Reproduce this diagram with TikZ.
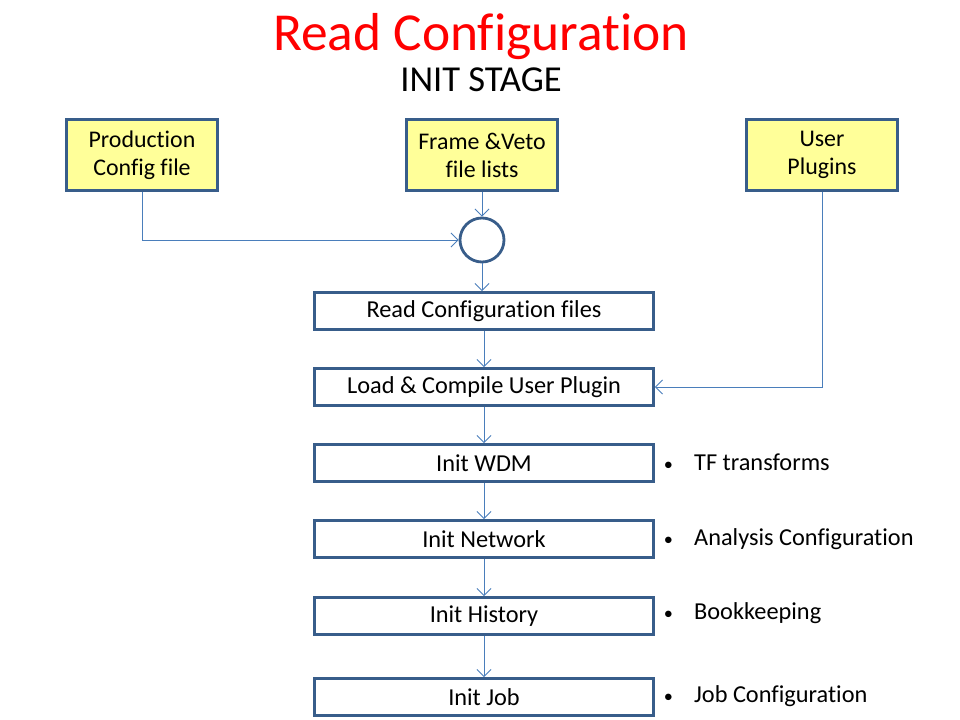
\documentclass[tikz,border=0pt]{standalone}
\usepackage{fontspec}
\setmainfont[Ligatures=NoCommon]{Carlito}
\usepackage{tikz}
\usetikzlibrary{arrows.meta, positioning}
\definecolor{boxline}{HTML}{385D8A}
\definecolor{arrowblue}{HTML}{4A7EBB}
\definecolor{inputfill}{HTML}{FFFF99}
\newlength{\unitpx}
\setlength{\unitpx}{0.025cm}
\tikzset{
  inbox/.style={draw=boxline, line width=2pt, fill=inputfill, minimum width=151\unitpx, minimum height=71\unitpx, align=center, font=\fontsize{17}{20}\selectfont},
  stagebox/.style={draw=boxline, line width=2pt, fill=white, minimum width=339\unitpx, minimum height=37\unitpx, font=\fontsize{17.3}{20}\selectfont},
  flow/.style={draw=arrowblue, line width=0.6pt, -{Straight Barb[length=5pt,width=10pt]}},
  note/.style={anchor=west, font=\fontsize{17.3}{20}\selectfont}
}
\newcommand{\notedot}{{\fontsize{13}{15}\selectfont\textbullet}\hspace{15pt}}
\begin{document}
\begin{tikzpicture}[x=0.025cm, y=-0.025cm]
  \useasboundingbox (0,0) rectangle (960,720);
  % title
  \node[text=red, font=\fontsize{38}{44}\selectfont] (title) at (481,37) {Read Configuration};
  \node[font=\fontsize{26}{30}\selectfont] (stage) at (481,80) {INIT STAGE};
  % inputs
  \node[inbox] (prod) at (142,155) {Production\\Config file};
  \node[inbox] (frame) at (482,155) {Frame \&Veto\\file lists};
  \node[inbox] (plug) at (822,155) {User\\Plugins};
  \node[circle, draw=boxline, line width=2pt, minimum size=44\unitpx, inner sep=0pt] (merge) at (482,240) {};
  % stages
  \node[stagebox] (read) at (484,311) {Read Configuration files};
  \node[stagebox] (load) at (484,387) {Load \& Compile User Plugin};
  \node[stagebox] (wdm) at (484,463) {Init WDM};
  \node[stagebox] (net) at (484,539) {Init Network};
  \node[stagebox] (hist) at (484,616) {Init History};
  \node[stagebox] (job) at (484,697) {Init Job};
  % notes
  \node[note] (nwdm) at (659,462) {\notedot TF transforms};
  \node[note] (nnet) at (659,539) {\notedot Analysis Configuration};
  \node[note] (nhist) at (659,613) {\notedot Bookkeeping};
  \node[note] (njob) at (659,696) {\notedot Job Configuration};
  % connectors
  \draw[flow] (prod.south) |- (merge.west);
  \draw[flow] (frame) -- (merge);
  \draw[flow] (merge) -- (merge |- read.north);
  \draw[flow] (read) -- (load);
  \draw[flow] (load) -- (wdm);
  \draw[flow] (wdm) -- (net);
  \draw[flow] (net) -- (hist);
  \draw[flow] (hist) -- (job);
  \draw[flow] (plug.south) |- (load.east);
\end{tikzpicture}
\end{document}
